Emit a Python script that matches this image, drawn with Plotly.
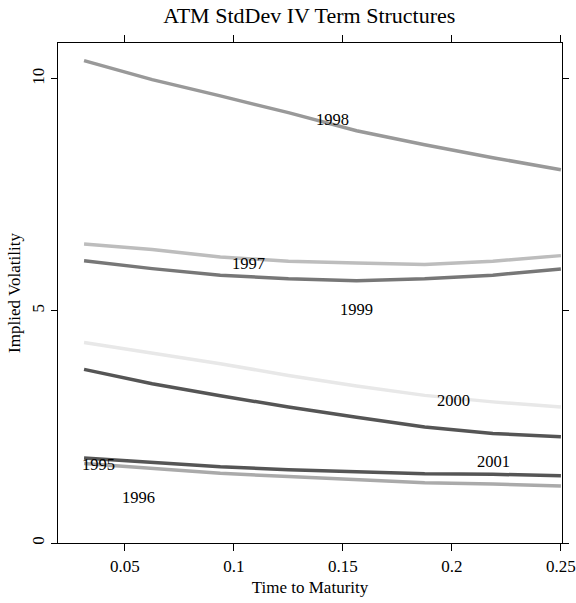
import plotly.graph_objects as go

# Maturities (years) at which each term structure is sampled
maturity = [0.03125, 0.0625, 0.09375, 0.125, 0.15625, 0.1875, 0.21875, 0.25]

# ATM implied volatility, in standard deviations, per year
iv_1995 = [1.83, 1.74, 1.64, 1.58, 1.53, 1.49, 1.48, 1.45]
iv_1996 = [1.71, 1.60, 1.50, 1.43, 1.36, 1.30, 1.27, 1.23]
iv_1997 = [6.44, 6.32, 6.16, 6.07, 6.03, 6.00, 6.07, 6.19]
iv_1998 = [10.39, 9.98, 9.63, 9.27, 8.88, 8.58, 8.30, 8.04]
iv_1999 = [6.08, 5.91, 5.77, 5.69, 5.65, 5.69, 5.77, 5.90]
iv_2000 = [4.32, 4.09, 3.86, 3.61, 3.38, 3.18, 3.04, 2.93]
iv_2001 = [3.74, 3.43, 3.17, 2.93, 2.71, 2.50, 2.36, 2.29]

years = ["1995", "1996", "1997", "1998", "1999", "2000", "2001"]
series = [iv_1995, iv_1996, iv_1997, iv_1998, iv_1999, iv_2000, iv_2001]
colors = ["#555555", "#aaaaaa", "#bdbdbd", "#999999", "#777777", "#e8e8e8", "#555555"]

# Curve label anchors (maturity, volatility)
label_x = [0.0379, 0.0563, 0.1067, 0.1453, 0.1563, 0.2009, 0.2192]
label_y = [1.70, 0.99, 6.01, 9.12, 5.02, 3.08, 1.75]

font_family = "Liberation Serif, Times New Roman, serif"

fig = go.Figure()
for yr, vals, col in zip(years, series, colors):
    fig.add_trace(go.Scatter(
        x=maturity, y=vals, mode="lines", name=yr,
        line=dict(color=col, width=3.5),
        showlegend=False,
    ))

for yr, lx, ly in zip(years, label_x, label_y):
    fig.add_annotation(x=lx, y=ly, text=yr, showarrow=False,
                       font=dict(family=font_family, size=16.5, color="black"))

axis_common = dict(
    showline=True, linecolor="black", linewidth=1.2, mirror="ticks",
    ticks="outside", tickwidth=1.2, tickcolor="black",
    showgrid=False, zeroline=False, automargin=False,
    tickfont=dict(family=font_family, size=17, color="black"),
)

fig.update_layout(
    width=576, height=603,
    margin=dict(l=58, r=14, t=43, b=60),
    paper_bgcolor="white", plot_bgcolor="white",
    title=dict(text="ATM StdDev IV Term Structures", x=0.537, xanchor="center",
               y=0.975, yanchor="middle",
               font=dict(family=font_family, size=22, color="black")),
    xaxis=dict(range=[0.0193, 0.2505], tickvals=[0.05, 0.1, 0.15, 0.2, 0.25],
               ticktext=["0.05", "0.1", "0.15", "0.2", "0.25"], ticklen=7,
               title=dict(text="Time to Maturity", standoff=6,
                          font=dict(family=font_family, size=17, color="black")),
               **axis_common),
    yaxis=dict(range=[0, 10.77], tickvals=[0, 5, 10], tickangle=-90, ticklen=6,
               title=dict(text="Implied Volatility", standoff=4,
                          font=dict(family=font_family, size=17, color="black")),
               **axis_common),
)

fig.write_html("out.html")
